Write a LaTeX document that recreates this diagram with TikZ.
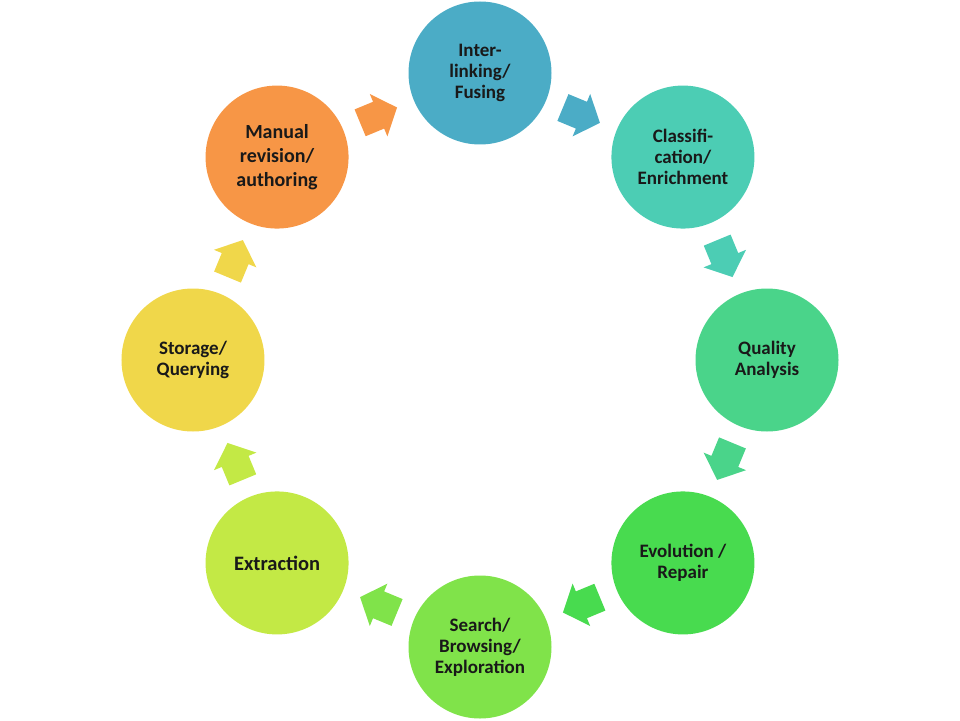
\documentclass[tikz,border=0pt]{standalone}
\usepackage{fontspec}
\setmainfont{Carlito}
\definecolor{cA}{HTML}{4BACC6}
\definecolor{cB}{HTML}{4CCDB4}
\definecolor{cC}{HTML}{4AD48A}
\definecolor{cD}{HTML}{48DB4F}
\definecolor{cE}{HTML}{80E34A}
\definecolor{cF}{HTML}{C3E945}
\definecolor{cG}{HTML}{F0D74A}
\definecolor{cH}{HTML}{F79646}
\begin{document}
\begin{tikzpicture}[x=1pt,y=1pt,
  stage/.style={circle,minimum size=143pt,inner sep=0pt,align=center,
    font=\bfseries\fontsize{19}{21}\selectfont,text=black!90}]
\useasboundingbox (-480,-360) rectangle (480,360);
\def\R{287}
\node[stage,fill=cA] (n1) at (90:\R) {Inter-\\linking/\\Fusing};
\node[stage,fill=cB] (n2) at (45:\R) {Classifi-\\cation/\\Enrichment};
\node[stage,fill=cC] (n3) at (0:\R) {Quality\\Analysis};
\node[stage,fill=cD] (n4) at (-45:\R) {Evolution /\\Repair};
\node[stage,fill=cE] (n5) at (-90:\R) {Search/\\Browsing/\\Exploration};
\node[stage,fill=cF,font=\bfseries\fontsize{20.5}{22}\selectfont] (n6) at (-135:\R) {Extraction};
\node[stage,fill=cG] (n7) at (180:\R) {Storage/\\Querying};
\node[stage,fill=cH,font=\bfseries\fontsize{20}{24}\selectfont] (n8) at (135:\R) {Manual\\revision/\\authoring};
\foreach \k/\c in {0/cA,1/cB,2/cC,3/cD,4/cE,5/cF,6/cG,7/cH}{
  \pgfmathsetmacro{\th}{67.5-45*\k}
  \coordinate (a\k) at (\th:265);
  \fill[\c,shift={(a\k)},rotate=\th-90]
    (-20,14.5) -- (0,14.5) -- (0,23) -- (20,0) -- (0,-23) -- (0,-14.5) -- (-20,-14.5) -- cycle;
}
\end{tikzpicture}
\end{document}
